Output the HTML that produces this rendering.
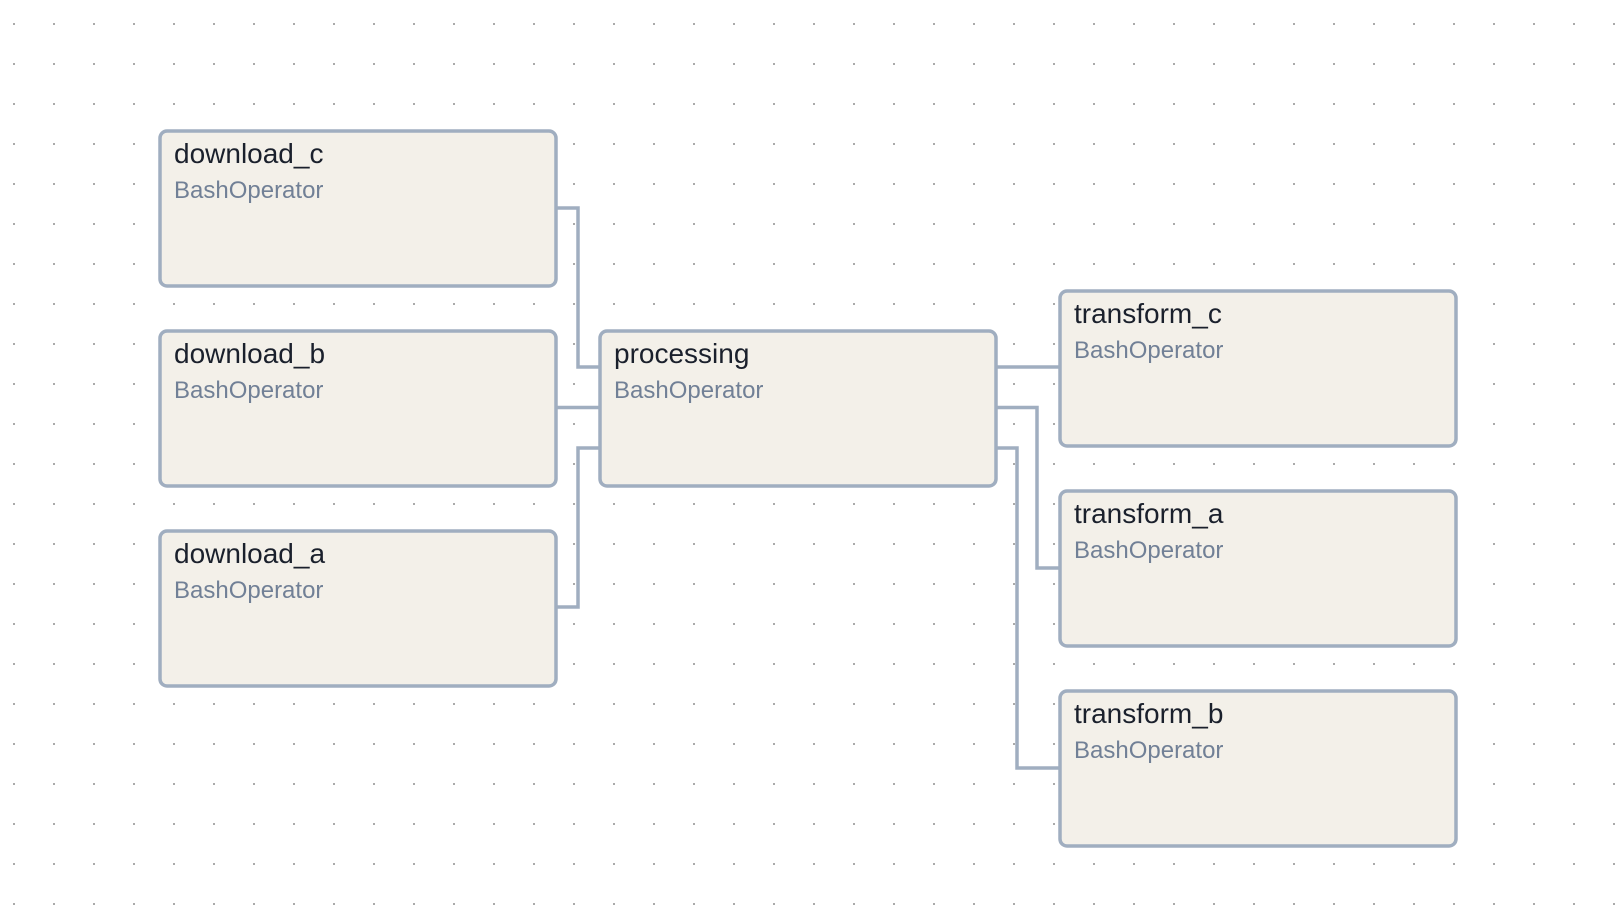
<!DOCTYPE html>
<html><head><meta charset="utf-8"><style>
html,body{margin:0;padding:0;background:#fff;}
svg{display:block;}
.t{font-family:"Liberation Sans",Arial,sans-serif;font-size:28px;fill:#1a202c;}
.s{font-family:"Liberation Sans",Arial,sans-serif;font-size:24px;fill:#718096;}
.b{fill:#f3f0e9;stroke:#a0aec0;stroke-width:3.5;}
.e{fill:none;stroke:#a0aec0;stroke-width:3.5;}
</style></head><body>
<svg width="1622" height="916" viewBox="0 0 1622 916" xmlns="http://www.w3.org/2000/svg">
<defs><pattern id="d" x="13" y="23" width="40" height="40" patternUnits="userSpaceOnUse"><rect width="2" height="2" fill="#aaaaaa"/></pattern></defs>
<rect width="1622" height="916" fill="url(#d)"/>
<path class="e" d="M557 208 H578 V367 H600"/>
<path class="e" d="M557 407.5 H600"/>
<path class="e" d="M557 607 H578 V448 H600"/>
<path class="e" d="M996 367 H1060"/>
<path class="e" d="M996 407.5 H1037 V568 H1060"/>
<path class="e" d="M996 448 H1017 V768 H1060"/>
<rect class="b" x="160" y="131" width="396" height="155" rx="7"/>
<text class="t" x="174" y="163">download_c</text><text class="s" x="174" y="198">BashOperator</text>
<rect class="b" x="160" y="331" width="396" height="155" rx="7"/>
<text class="t" x="174" y="363">download_b</text><text class="s" x="174" y="398">BashOperator</text>
<rect class="b" x="160" y="531" width="396" height="155" rx="7"/>
<text class="t" x="174" y="563">download_a</text><text class="s" x="174" y="598">BashOperator</text>
<rect class="b" x="600" y="331" width="396" height="155" rx="7"/>
<text class="t" x="614" y="363">processing</text><text class="s" x="614" y="398">BashOperator</text>
<rect class="b" x="1060" y="291" width="396" height="155" rx="7"/>
<text class="t" x="1074" y="323">transform_c</text><text class="s" x="1074" y="358">BashOperator</text>
<rect class="b" x="1060" y="491" width="396" height="155" rx="7"/>
<text class="t" x="1074" y="523">transform_a</text><text class="s" x="1074" y="558">BashOperator</text>
<rect class="b" x="1060" y="691" width="396" height="155" rx="7"/>
<text class="t" x="1074" y="723">transform_b</text><text class="s" x="1074" y="758">BashOperator</text>
</svg>
</body></html>
